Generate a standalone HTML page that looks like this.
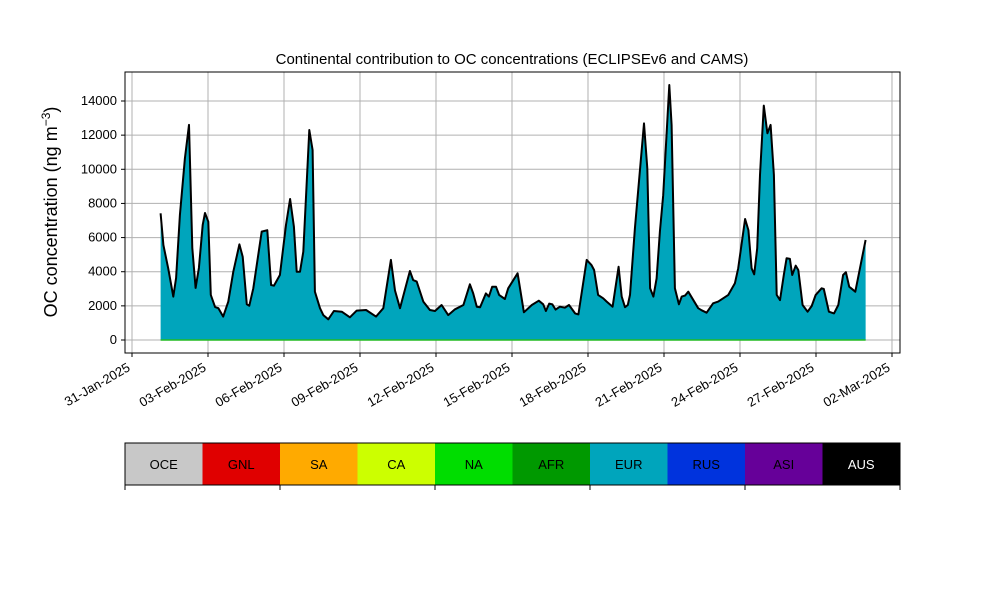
<!DOCTYPE html>
<html><head><meta charset="utf-8"><style>
body{margin:0;background:#fff;}
svg{display:block;font-family:"Liberation Sans","DejaVu Sans",sans-serif;}
</style></head><body>
<svg id="chart" width="1000" height="600">
<text x="512" y="64" font-size="15" text-anchor="middle">Continental contribution to OC concentrations (ECLIPSEv6 and CAMS)</text>
<text transform="translate(57,212) rotate(-90)" font-size="18" text-anchor="middle">OC concentration (ng m<tspan dy="-7" font-size="12">−3</tspan><tspan dy="7">)</tspan></text>
<g id="grid"></g><g id="series"></g><g id="axes"></g><g id="cbar"></g>
</svg>
<script>
const days=[1.13,1.24,1.43,1.63,1.74,1.89,2.09,2.25,2.38,2.51,2.64,2.79,2.88,3.01,3.11,3.28,3.41,3.60,3.80,4.00,4.24,4.37,4.53,4.63,4.79,5.12,5.34,5.49,5.60,5.84,6.08,6.24,6.39,6.50,6.63,6.76,7.00,7.13,7.22,7.42,7.55,7.75,7.97,8.28,8.60,8.87,9.24,9.63,9.92,10.22,10.38,10.58,10.97,11.10,11.24,11.50,11.76,11.96,12.22,12.48,12.75,13.08,13.34,13.47,13.61,13.74,13.97,14.09,14.22,14.37,14.49,14.72,14.85,15.22,15.47,15.78,16.06,16.23,16.34,16.47,16.59,16.72,16.89,17.09,17.25,17.49,17.62,17.95,18.14,18.24,18.40,18.60,18.74,18.97,19.21,19.33,19.46,19.57,19.66,19.85,20.21,20.34,20.45,20.58,20.71,20.84,20.97,21.21,21.30,21.43,21.59,21.70,21.83,21.96,22.35,22.49,22.68,22.94,23.14,23.54,23.80,23.93,24.20,24.33,24.46,24.56,24.68,24.79,24.94,25.08,25.21,25.34,25.45,25.58,25.73,25.84,25.97,26.06,26.20,26.30,26.47,26.67,26.83,26.99,27.22,27.31,27.51,27.71,27.88,28.07,28.18,28.31,28.55,28.76,28.96];
const eur=[7420,5560,4200,2540,3630,7320,10640,12600,5390,3050,4220,6740,7440,6930,2640,1930,1860,1370,2250,4000,5600,4880,2090,2010,3030,6350,6430,3220,3180,3810,6740,8260,6640,4000,4000,5170,12300,11130,2830,1860,1460,1210,1700,1660,1330,1720,1760,1370,1860,4690,2900,1860,4040,3510,3420,2250,1760,1700,2050,1460,1800,2050,3260,2730,1950,1920,2730,2540,3120,3120,2640,2400,3030,3910,1620,2050,2300,2090,1700,2130,2090,1780,1950,1890,2050,1560,1500,4690,4390,4100,2640,2440,2250,1950,4290,2540,1920,2050,2640,6540,12690,10060,3030,2540,3610,6350,8490,14940,12600,3030,2090,2540,2600,2830,1860,1740,1600,2150,2250,2640,3320,4200,7090,6440,4200,3850,5370,9670,13730,12110,12600,9670,2640,2340,3810,4790,4750,3810,4350,4100,2050,1660,1990,2640,3030,2990,1660,1560,2050,3810,3970,3120,2830,4390,5860];
const yTicks=[0,2000,4000,6000,8000,10000,12000,14000];
const xTickDays=[0,3,6,9,12,15,18,21,24,27,30];
const xTickLabels=["31-Jan-2025","03-Feb-2025","06-Feb-2025","09-Feb-2025","12-Feb-2025","15-Feb-2025","18-Feb-2025","21-Feb-2025","24-Feb-2025","27-Feb-2025","02-Mar-2025"];
const regions=["OCE","GNL","SA","CA","NA","AFR","EUR","RUS","ASI","AUS"];
const regionColors=["#c8c8c8","#e00000","#ffaa00","#ccff00","#00dd00","#009900","#00a5bc","#0033dd","#660099","#000000"];
const NS="http://www.w3.org/2000/svg";
const L=125,R=900,T=72,B=353;
const xs=d=>132+d*25.333;
const ys=v=>340-v*239/14000;
function mk(tag,attrs,parent){const e=document.createElementNS(NS,tag);for(const k in attrs)e.setAttribute(k,attrs[k]);parent.appendChild(e);return e;}
const grid=document.getElementById('grid'),ser=document.getElementById('series'),ax=document.getElementById('axes'),cb=document.getElementById('cbar');
yTicks.forEach(v=>{const y=ys(v);
 const g=mk('line',{x1:L,x2:R,y1:y,y2:y,stroke:'#b0b0b0','stroke-width':1},grid);
 
 
 mk('line',{x1:L-4,x2:L,y1:y,y2:y,stroke:'#000'},ax);
 const t=mk('text',{x:L-8,y:y+4,'font-size':13,'text-anchor':'end'},ax);t.textContent=v;
 
 
});
xTickDays.forEach((d,i)=>{const x=xs(d);
 const g=mk('line',{x1:x,x2:x,y1:T,y2:B,stroke:'#b0b0b0','stroke-width':1},grid);
 
 
 mk('line',{x1:x,x2:x,y1:B,y2:B+4,stroke:'#000'},ax);
 const lx=x-1,ly=B+17;
 const t=mk('text',{x:lx,y:ly,'font-size':13,'text-anchor':'end',transform:`rotate(-30 ${lx} ${ly})`},ax);t.textContent=xTickLabels[i];
 
 
});
let pts=days.map((d,i)=>xs(d).toFixed(1)+','+ys(eur[i]).toFixed(1));
const area=mk('polygon',{points:xs(days[0])+','+ys(0)+' '+pts.join(' ')+' '+xs(days[days.length-1])+','+ys(0),fill:'#00a5bc'},ser);


const base=mk('line',{x1:xs(days[0]),x2:xs(days[days.length-1]),y1:ys(0),y2:ys(0),stroke:'#22bb22','stroke-width':1.5},ser);


const line=mk('polyline',{points:pts.join(' '),fill:'none',stroke:'#000','stroke-width':2,'stroke-linejoin':'round'},ser);


const fr=mk('rect',{x:L,y:T,width:R-L,height:B-T,fill:'none',stroke:'#000'},ax);


const cw=(R-L)/regions.length;
regions.forEach((r,i)=>{
 const c=mk('rect',{x:L+i*cw,y:443,width:cw,height:42,fill:regionColors[i]},cb);
 
 
 const t=mk('text',{x:L+i*cw+cw/2,y:469,'font-size':13,'text-anchor':'middle',fill:i===9?'#fff':'#000'},cb);t.textContent=r;
 
 
});
const cbf=mk('rect',{x:L,y:443,width:R-L,height:42,fill:'none',stroke:'#000'},cb);


for(let i=0;i<=regions.length;i+=2){mk('line',{x1:L+i*cw,x2:L+i*cw,y1:485,y2:490,stroke:'#000'},cb);}
</script>
</body></html>
